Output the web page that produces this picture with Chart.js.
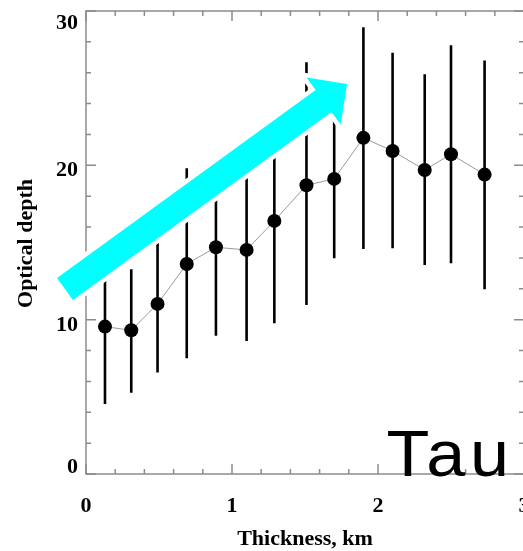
<!DOCTYPE html>
<html>
<head>
<meta charset="utf-8">
<title>Optical depth vs thickness</title>
<script src="https://cdn.jsdelivr.net/npm/chart.js@4.4.1/dist/chart.umd.min.js"></script>
<style>
  html, body { margin: 0; padding: 0; background: #fff; overflow: hidden; width: 523px; height: 551px; }
  #wrap { position: relative; width: 560px; height: 551px; }
  canvas { display: block; }
</style>
</head>
<body>
<div id="wrap"><canvas id="chart" width="560" height="551"></canvas></div>
<script>
// Binned cloud thickness (km) and mean optical depth with its spread
const thickness    = [0.13, 0.31, 0.49, 0.69, 0.89, 1.10, 1.29, 1.51, 1.70, 1.90, 2.10, 2.32, 2.50, 2.73];
const opticalDepth = [9.55, 9.31, 11.02, 13.61, 14.69, 14.52, 16.40, 18.71, 19.12, 21.78, 20.93, 19.70, 20.72, 19.40];
const depthLow     = [4.54, 5.27, 6.57, 7.50, 8.96, 8.62, 9.77, 10.95, 13.98, 14.58, 14.62, 13.55, 13.65, 11.97];
const depthHigh    = [14.56, 13.27, 15.47, 19.81, 20.42, 20.42, 23.03, 26.68, 24.26, 28.95, 27.30, 25.90, 27.78, 26.79];

// Axis ticks and their labels
const xTickValues = [0, 1, 2, 3];
const xTickLabels = ['0', '1', '2', '3'];
const yTickValues = [0, 10, 20, 30];
const yTickLabels = ['0', '10', '20', '30'];
const xMinorStep = 0.2;
const yMinorStep = 2;

// Trend arrow, tail and tip in data units
const trendFrom = [-0.144, 11.99];
const trendTo   = [1.788, 25.27];

const AXIS_COLOR = '#8c8c8c';
const LABEL_FONT = 'bold 22px "Liberation Serif", "Times New Roman", serif';

// Boxed frame with inward major/minor ticks on all four sides
const framePlugin = {
  id: 'frame',
  beforeDatasetsDraw(chart) {
    const { ctx, chartArea: a, scales: { x, y } } = chart;
    ctx.save();
    ctx.strokeStyle = AXIS_COLOR;
    ctx.lineWidth = 1.5;
    ctx.strokeRect(a.left, a.top, a.right - a.left, a.bottom - a.top);
    ctx.beginPath();
    const xMin = x.min, xMax = x.max, yMin = y.min, yMax = y.max;
    for (let i = 0; xMin + i * xMinorStep <= xMax + 1e-9; i++) {
      const v = xMin + i * xMinorStep;
      const major = xTickValues.some(t => Math.abs(t - v) < 1e-6);
      const len = major ? 10 : 5;
      const px = x.getPixelForValue(v);
      ctx.moveTo(px, a.bottom); ctx.lineTo(px, a.bottom - len);
      ctx.moveTo(px, a.top); ctx.lineTo(px, a.top + len);
    }
    for (let i = 0; yMin + i * yMinorStep <= yMax + 1e-9; i++) {
      const v = yMin + i * yMinorStep;
      const major = yTickValues.some(t => Math.abs(t - v) < 1e-6);
      const len = major ? 10 : 5;
      const py = y.getPixelForValue(v);
      ctx.moveTo(a.left, py); ctx.lineTo(a.left + len, py);
      ctx.moveTo(a.right, py); ctx.lineTo(a.right - len, py);
    }
    ctx.stroke();
    ctx.restore();
  }
};

// Vertical spread bars behind the mean markers
const errorBarPlugin = {
  id: 'errorBars',
  beforeDatasetsDraw(chart) {
    const { ctx, scales: { x, y } } = chart;
    ctx.save();
    ctx.strokeStyle = '#000';
    ctx.lineWidth = 2.6;
    ctx.lineCap = 'butt';
    ctx.beginPath();
    thickness.forEach((t, i) => {
      const px = x.getPixelForValue(t);
      ctx.moveTo(px, y.getPixelForValue(depthLow[i]));
      ctx.lineTo(px, y.getPixelForValue(depthHigh[i]));
    });
    ctx.stroke();
    ctx.restore();
  }
};

// Trend arrow, tick labels, axis titles and the panel tag
const overlayPlugin = {
  id: 'overlay',
  afterDatasetsDraw(chart) {
    const { ctx, chartArea: a, scales: { x, y } } = chart;

    // arrow
    const p0 = { x: x.getPixelForValue(trendFrom[0]), y: y.getPixelForValue(trendFrom[1]) };
    const p1 = { x: x.getPixelForValue(trendTo[0]), y: y.getPixelForValue(trendTo[1]) };
    const dx = p1.x - p0.x, dy = p1.y - p0.y, L = Math.hypot(dx, dy);
    const ux = dx / L, uy = dy / L, nx = -uy, ny = ux;
    const shaft = 13.5, head = 29, headLen = 29, base = L - headLen;
    const pt = (along, side) => [p0.x + ux * along + nx * side, p0.y + uy * along + ny * side];
    const poly = [pt(0, shaft), pt(base, shaft), pt(base, head), pt(L, 0),
                  pt(base, -head), pt(base, -shaft), pt(0, -shaft)];
    ctx.save();
    ctx.beginPath();
    poly.forEach(([px, py], i) => i ? ctx.lineTo(px, py) : ctx.moveTo(px, py));
    ctx.closePath();
    ctx.lineJoin = 'miter';
    ctx.strokeStyle = '#fff';
    ctx.lineWidth = 9;
    ctx.stroke();
    ctx.fillStyle = '#00ffff';
    ctx.fill();
    ctx.restore();

    // tick labels
    ctx.save();
    ctx.fillStyle = '#000';
    ctx.font = LABEL_FONT;
    ctx.textBaseline = 'alphabetic';
    ctx.textAlign = 'right';
    yTickValues.forEach((v, i) => {
      const py = y.getPixelForValue(v);
      const cy = Math.min(Math.max(py + 3.5, a.top + 11), a.bottom - 8);
      ctx.fillText(yTickLabels[i], a.left - 8, cy + 7.4);
    });
    ctx.textAlign = 'center';
    xTickValues.forEach((v, i) => {
      ctx.fillText(xTickLabels[i], x.getPixelForValue(v), a.bottom + 38);
    });

    // axis titles
    ctx.fillText('Thickness, km', (a.left + a.right) / 2, a.bottom + 71);
    ctx.save();
    ctx.translate(32, (a.top + a.bottom) / 2 + 1);
    ctx.rotate(-Math.PI / 2);
    ctx.fillText('Optical depth', 0, 0);
    ctx.restore();

    // panel tag
    ctx.font = '65px "Liberation Sans", Arial, sans-serif';
    ctx.textAlign = 'left';
    ctx.letterSpacing = '4.4px';
    ctx.translate(a.right - 137.6, a.bottom + 2);
    ctx.scale(1.08, 1);
    ctx.fillText('Tau', 0, 0);
    ctx.restore();
  }
};

new Chart(document.getElementById('chart'), {
  type: 'scatter',
  data: {
    datasets: [{
      label: 'Optical depth',
      data: thickness.map((t, i) => ({ x: t, y: opticalDepth[i] })),
      showLine: true,
      borderColor: '#9a9a9a',
      borderWidth: 1,
      pointRadius: 7,
      pointBackgroundColor: '#000',
      pointBorderColor: '#000',
      pointBorderWidth: 0,
      tension: 0
    }]
  },
  options: {
    responsive: false,
    devicePixelRatio: 1,
    animation: false,
    events: [],
    layout: { padding: { left: 86, right: 36, top: 11, bottom: 77 } },
    plugins: { legend: { display: false }, tooltip: { enabled: false } },
    scales: {
      x: { type: 'linear', min: 0, max: 3, display: false },
      y: { type: 'linear', min: 0, max: 30, display: false }
    }
  },
  plugins: [framePlugin, errorBarPlugin, overlayPlugin]
});
</script>
</body>
</html>
